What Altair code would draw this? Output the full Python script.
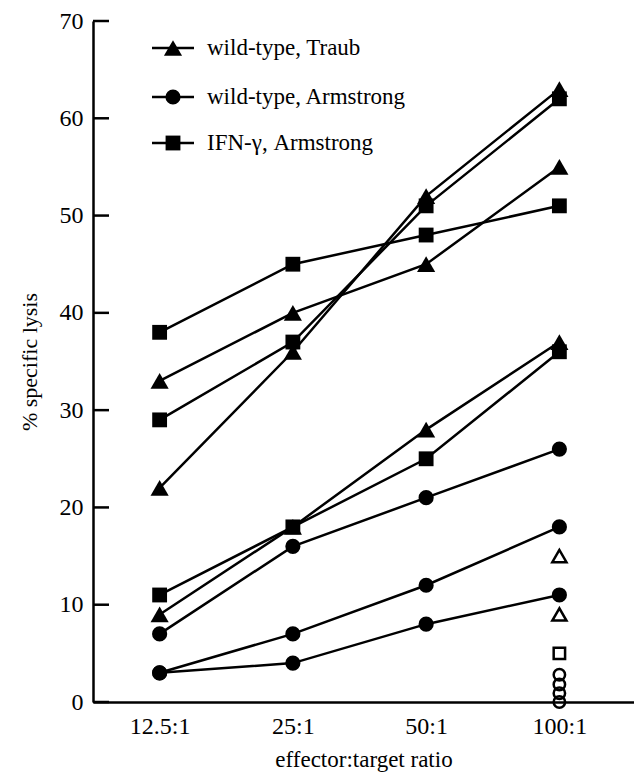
import altair as alt
import pandas as pd

# ---- data ----
categories = ["12.5:1", "25:1", "50:1", "100:1"]

traub_1 = [33, 40, 45, 55]
traub_2 = [22, 36, 52, 63]
traub_3 = [9, 18, 28, 37]

armstrong_1 = [7, 16, 21, 26]
armstrong_2 = [3, 7, 12, 18]
armstrong_3 = [3, 4, 8, 11]

ifn_1 = [38, 45, 48, 51]
ifn_2 = [29, 37, 51, 62]
ifn_3 = [11, 18, 25, 36]

# open (control) symbols at 100:1
open_triangles = [15, 9]
open_squares = [5]
open_circles = [2.8, 1.8, 0.9, 0]

y_ticks = [0, 10, 20, 30, 40, 50, 60, 70]

legend_labels = ["wild-type, Traub", "wild-type, Armstrong", "IFN-\u03b3, Armstrong"]
legend_shapes = ["triangle-up", "circle", "square"]

# ---- tables ----
series = [
    ("traub_1", "triangle-up", traub_1),
    ("traub_2", "triangle-up", traub_2),
    ("traub_3", "triangle-up", traub_3),
    ("arm_1", "circle", armstrong_1),
    ("arm_2", "circle", armstrong_2),
    ("arm_3", "circle", armstrong_3),
    ("ifn_1", "square", ifn_1),
    ("ifn_2", "square", ifn_2),
    ("ifn_3", "square", ifn_3),
]
rows = []
for name, shape, vals in series:
    for i, v in enumerate(vals):
        rows.append({"series": name, "shape": shape, "x": i, "y": v})
df = pd.DataFrame(rows)

open_rows = []
last = len(categories) - 1
for v in open_triangles:
    open_rows.append({"shape": "triangle-up", "x": last, "y": v})
for v in open_squares:
    open_rows.append({"shape": "square", "x": last, "y": v})
for v in open_circles:
    open_rows.append({"shape": "circle", "x": last, "y": v})
odf = pd.DataFrame(open_rows)

tick_df = pd.DataFrame({"y": y_ticks})

FONT = "Liberation Serif"
W, H = 541, 681

xscale = alt.Scale(domain=[-0.5, 3.56], nice=False, zero=False)
yscale = alt.Scale(domain=[0, 70], nice=False, zero=True)

label_expr = "[" + ",".join("'%s'" % c for c in categories) + "][datum.value]"

xaxis = alt.Axis(
    values=list(range(len(categories))),
    labelExpr=label_expr,
    ticks=False, tickSize=0, grid=False,
    domainColor="black", domainWidth=2.5,
    labelFont=FONT, labelFontSize=24, labelColor="black",
    labelBaseline="alphabetic", labelPadding=31, labelFlush=False,
    title="effector:target ratio",
    titleFont=FONT, titleFontSize=23, titleFontWeight="normal", titleColor="black",
    titleBaseline="alphabetic", titleY=64,
)
yaxis = alt.Axis(
    values=y_ticks,
    ticks=False, tickSize=0, grid=False,
    domainColor="black", domainWidth=2.5,
    labelFont=FONT, labelFontSize=24, labelColor="black",
    labelPadding=10, labelFlush=False,
    title="% specific lysis",
    titleFont=FONT, titleFontSize=22, titleFontWeight="normal", titleColor="black",
    titleAngle=270, titleBaseline="alphabetic", titleAlign="center",
    titleX=-57, titleY=H / 2,
)

base = alt.Chart(df)

lines = base.mark_line(color="black", strokeWidth=2.5).encode(
    x=alt.X("x:Q", scale=xscale, axis=xaxis),
    y=alt.Y("y:Q", scale=yscale, axis=yaxis),
    detail="series:N",
)

sizes = {"triangle-up": 330, "circle": 230, "square": 220}
filled_layers = []
for shp in ["triangle-up", "circle", "square"]:
    filled_layers.append(
        base.transform_filter(alt.datum.shape == shp)
        .mark_point(shape=shp, filled=True, color="black", opacity=1, size=sizes[shp])
        .encode(x=alt.X("x:Q", scale=xscale, axis=xaxis),
                y=alt.Y("y:Q", scale=yscale, axis=yaxis))
    )

open_sizes = {"triangle-up": 200, "circle": 130, "square": 130}
open_layers = []
for shp in ["triangle-up", "square", "circle"]:
    open_layers.append(
        alt.Chart(odf).transform_filter(alt.datum.shape == shp)
        .mark_point(shape=shp, filled=False, stroke="black", strokeWidth=2.5,
                    opacity=1, size=open_sizes[shp])
        .encode(x=alt.X("x:Q", scale=xscale, axis=xaxis),
                y=alt.Y("y:Q", scale=yscale, axis=yaxis))
    )

# inward-pointing y ticks
ticks = alt.Chart(tick_df).mark_rule(color="black", strokeWidth=2.5).encode(
    y=alt.Y("y:Q", scale=yscale, axis=yaxis),
    x=alt.value(0), x2=alt.value(16),
)

# ---- legend (drawn by hand: line segment with symbol, then label) ----
legend_rows_y = [27, 76, 122]
legend_layers = []
for lbl, shp, yy in zip(legend_labels, legend_shapes, legend_rows_y):
    ldf = pd.DataFrame({"label": [lbl]})
    lc = alt.Chart(ldf)
    legend_layers.append(
        lc.mark_rule(color="black", strokeWidth=2.5).encode(
            x=alt.value(59), x2=alt.value(101), y=alt.value(yy))
    )
    legend_layers.append(
        lc.mark_point(shape=shp, filled=True, color="black", opacity=1, size=sizes[shp]).encode(
            x=alt.value(80), y=alt.value(yy))
    )
    legend_layers.append(
        lc.mark_text(align="left", baseline="middle", font=FONT, fontSize=23, color="black").encode(
            x=alt.value(114), y=alt.value(yy), text="label:N")
    )

chart = alt.layer(
    lines, ticks, *filled_layers, *open_layers, *legend_layers
).properties(
    width=W, height=H,
    padding={"left": 93, "top": 21, "right": 0, "bottom": 75},
    autosize=alt.AutoSizeParams(type="none"),
    background="white",
).configure_view(stroke=None)

chart.save("out.html", embed_options={"renderer": "svg", "actions": False})
